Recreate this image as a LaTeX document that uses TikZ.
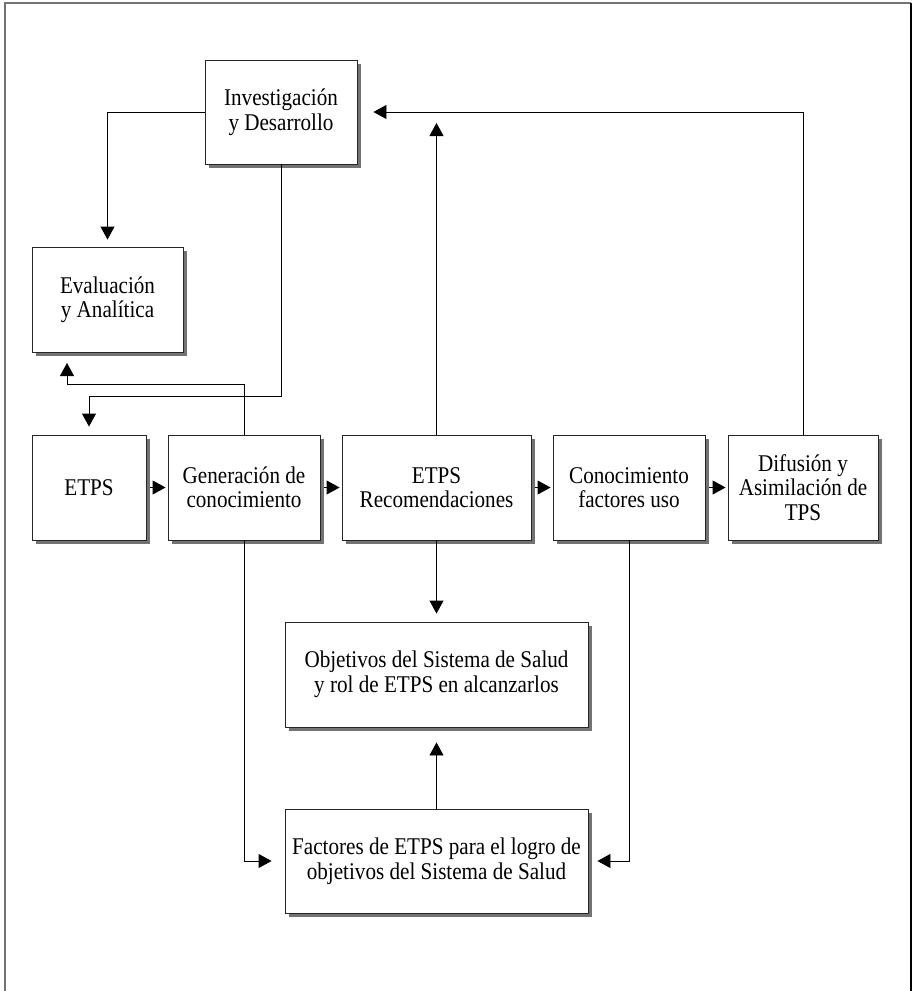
\documentclass[tikz,border=0pt]{standalone}
\usepackage{fontspec}
\setmainfont{Liberation Serif}[FakeStretch=0.88]
\usetikzlibrary{arrows.meta,shadows}
\begin{document}
\begin{tikzpicture}[x=1pt,y=-1pt,
  box/.style={draw=black!85, line width=0.9pt, fill=white, rectangle, inner sep=0pt,
    align=center, font=\fontsize{24}{24.5}\selectfont,
    drop shadow={shadow xshift=4pt, shadow yshift=-4pt, fill=black!55, opacity=1}},
  conn/.style={draw, line width=0.9pt, -{Triangle[length=13pt,width=14pt]}},
]
\useasboundingbox (0,0) rectangle (912,991);
\draw[black!55, line width=1.6pt] (5,995) -- (5,3) -- (911,3);
\draw[black, line width=1.6pt] (911,3) -- (911,995);

\node[box, minimum width=152pt, minimum height=104pt] (id) at (281,112) {Investigación\\y Desarrollo};
\node[box, minimum width=151pt, minimum height=105pt] (ev) at (107.5,299.5) {Evaluación\\y Analítica};
\node[box, minimum width=114pt, minimum height=105pt] (etps) at (89,487.5) {ETPS};
\node[box, minimum width=152pt, minimum height=105pt] (gen) at (244,487.5) {Generación de\\conocimiento};
\node[box, minimum width=189pt, minimum height=105pt] (rec) at (436.5,487.5) {ETPS\\Recomendaciones};
\node[box, minimum width=152pt, minimum height=105pt] (con) at (629,487.5) {Conocimiento\\factores uso};
\node[box, minimum width=150pt, minimum height=105pt] (dif) at (803,487.5) {Difusión y\\Asimilación de\\TPS};
\node[box, minimum width=303pt, minimum height=105pt] (obj) at (436.5,674.5) {Objetivos del Sistema de Salud\\y rol de ETPS en alcanzarlos};
\node[box, minimum width=303pt, minimum height=104pt] (fac) at (436.5,861) {Factores de ETPS para el logro de\\objetivos del Sistema de Salud};

\coordinate (t1) at (436.5,123);
\coordinate (k1) at (67,363);

% top connectors
\draw[conn, shorten >=7pt] (id.west) -| (ev.north);
\draw[conn, shorten >=8pt] (id.south) -- ++(0,232) -| (etps.north);
\draw[conn] (gen.north) -- ++(0,-50) -| (k1);
\draw[conn] (rec.north) -- (t1);
\draw[conn, shorten >=16pt] (dif.north) |- (id.east);

% row arrows
\draw[conn, shorten <=4pt, shorten >=2pt] (etps.east) -- (gen.west);
\draw[conn, shorten <=4pt, shorten >=2pt] (gen.east) -- (rec.west);
\draw[conn, shorten <=4pt, shorten >=2pt] (rec.east) -- (con.west);
\draw[conn, shorten <=4pt, shorten >=2pt] (con.east) -- (dif.west);

% bottom connectors
\draw[conn, shorten >=8pt] (rec.south) -- (obj.north);
\draw[conn, shorten >=15pt] (fac.north) -- (obj.south);
\draw[conn, shorten >=13pt] (gen.south) |- (fac.west);
\draw[conn, shorten >=9pt] (con.south) |- (fac.east);
\end{tikzpicture}
\end{document}
